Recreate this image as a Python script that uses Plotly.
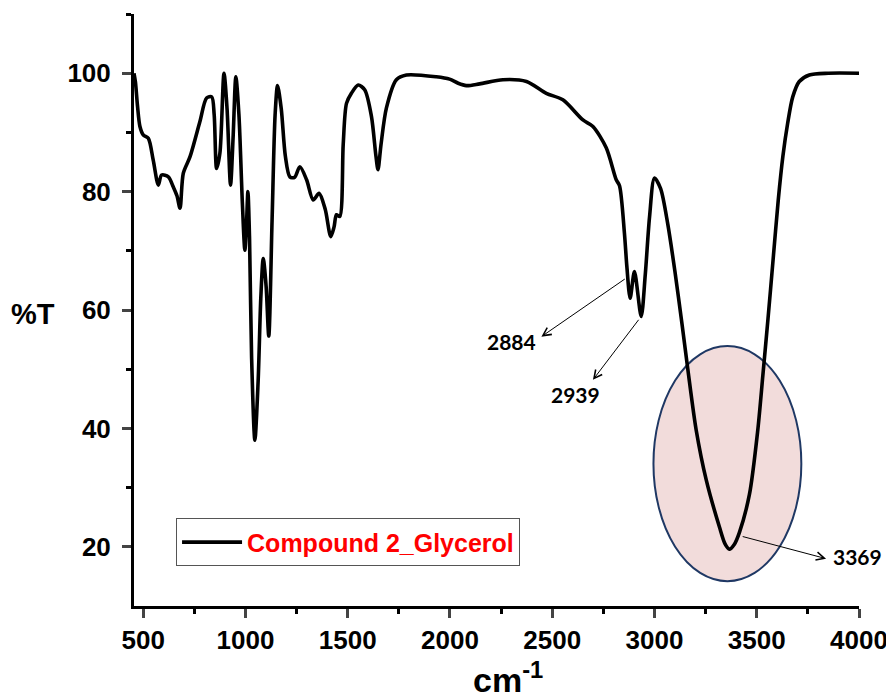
import plotly.graph_objects as go

wavenumber = [455, 462, 472, 484, 500, 525, 549, 574, 590, 623, 647, 665, 680, 696, 729, 777, 810, 835, 847, 859,
              875, 895, 910, 927, 940, 953, 968, 985, 997, 1005, 1012, 1020, 1030, 1046, 1062, 1075, 1087, 1101,
              1114, 1130, 1145, 1157, 1175, 1195, 1217, 1240, 1266, 1299, 1331, 1360, 1390, 1417, 1433, 1445,
              1461, 1478, 1494, 1518, 1551, 1583, 1616, 1638, 1648, 1663, 1689, 1738, 1787, 1933, 1998, 2040,
              2080, 2145, 2259, 2374, 2471, 2552, 2650, 2699, 2764, 2813, 2829, 2853, 2865, 2881, 2902, 2935,
              2955, 2976, 3000, 3030, 3065, 3100, 3135, 3163, 3204, 3253, 3318, 3345, 3366, 3390, 3415, 3464,
              3505, 3530, 3555, 3580, 3605, 3628, 3651, 3676, 3708, 3757, 3850, 4000]
transmittance = [100, 98.5, 94.5, 91.0, 89.6, 89.0, 85.3, 81.1, 82.8, 82.5, 80.8, 79.3, 77.2, 83.1, 85.9, 91.8, 95.8, 96.0, 93.0, 83.9,
                 86.5, 100, 94.0, 81.1, 89.5, 99.4, 93.0, 78.0, 70.1, 74.5, 80.0, 72.0, 52.0, 38.0, 48.0, 62.0, 68.7, 64.0,
                 55.6, 75.0, 93.0, 97.9, 94.0, 86.0, 82.5, 82.4, 84.2, 82.0, 78.6, 79.7, 77.0, 72.4, 74.0, 76.1,
                 75.8, 88.0, 94.9, 96.6, 98.0, 97.2, 92.7, 86.0, 83.7, 88.0, 94.1, 98.9, 99.7, 99.4, 99.0, 98.3,
                 97.9, 98.2, 98.9, 98.6, 96.6, 95.5, 92.1, 91.0, 87.4, 82.0, 81.0, 73.0, 67.3, 62.0, 66.5, 58.9,
                 66.0, 75.8, 82.3, 80.5, 74.5, 66.5, 57.5, 50.0, 39.7, 31.3, 23.3, 20.5, 19.6, 20.4, 22.4, 28.8,
                 39.7, 49.0, 58.5, 68.5, 78.5, 86.0, 91.5, 96.0, 98.6, 99.7, 100, 100]

series_name = "Compound 2_Glycerol"
x_ticks = [500, 1000, 1500, 2000, 2500, 3000, 3500, 4000]
x_minor_ticks = [750, 1250, 1750, 2250, 2750, 3250, 3750]
y_ticks = [20, 40, 60, 80, 100]
y_minor_ticks = [30, 50, 70, 90, 110]

# peak labels
peak_labels = ["2884", "2939", "3369"]
peak_tail_x = [2862, 2928, 3424]
peak_tail_y = [65.4, 58.6, 21.8]
peak_head_x = [2447, 2699, 3839]
peak_head_y = [55.5, 48.2, 18.0]
peak_text_x = [2302, 2614, 3992]
peak_text_y = [54.6, 45.8, 18.3]

fig = go.Figure()
fig.add_trace(go.Scatter(
    x=wavenumber, y=transmittance, mode="lines", name=series_name,
    line=dict(color="black", width=3.6, shape="spline", smoothing=0.8),
))

fig.add_shape(type="circle", xref="x", yref="y", x0=2995, x1=3718, y0=14.2, y1=53.9,
              fillcolor="#f2dcdb", line=dict(color="#1f3864", width=2), layer="below")

for lab, tx, ty, hx, hy, lx, ly in zip(peak_labels, peak_tail_x, peak_tail_y, peak_head_x, peak_head_y,
                                       peak_text_x, peak_text_y):
    fig.add_annotation(x=hx, y=hy, ax=tx, ay=ty, axref="x", ayref="y", xref="x", yref="y",
                       text="", showarrow=True, arrowhead=5, arrowsize=1.6, arrowwidth=1,
                       arrowcolor="black", standoff=0, startstandoff=0)
    fig.add_annotation(x=lx, y=ly, xref="x", yref="y", text=lab, showarrow=False,
                       font=dict(family="Lato, Open Sans, sans-serif", size=21, color="black", weight="bold"))

fig.add_annotation(xref="paper", yref="paper", x=-0.1388, y=0.493, xanchor="center", yanchor="middle",
                   text="%T", showarrow=False,
                   font=dict(family="Liberation Sans, Arial, sans-serif", size=29, color="black", weight="bold"))
fig.add_annotation(xref="paper", yref="paper", x=0.5156, y=-0.16, xanchor="center", yanchor="bottom",
                   showarrow=False, text="cm<sup>-1</sup>",
                   font=dict(family="Liberation Sans, Arial, sans-serif", size=34,
                             color="black", weight="bold"))

fig.update_layout(
    width=886, height=691,
    margin=dict(l=126, r=35, t=6, b=93),
    paper_bgcolor="white", plot_bgcolor="white",
    showlegend=True,
    legend=dict(x=0.058, y=0.148, xanchor="left", yanchor="top", bgcolor="white",
                bordercolor="#555555", borderwidth=1, itemwidth=60,
                font=dict(family="Liberation Sans, Arial, sans-serif", size=25, color="red", weight="bold")),
    xaxis=dict(range=[455, 4000], tickvals=x_ticks, ticks="outside", ticklen=9, tickwidth=2.5,
               showline=True, linecolor="black", linewidth=3, showgrid=False, zeroline=False,
               tickfont=dict(family="Liberation Sans, Arial, sans-serif", size=26,
                             color="black", weight="bold"),
               minor=dict(tickvals=x_minor_ticks, ticks="outside",
                          ticklen=5, tickwidth=2.5, tickcolor="black")),
    yaxis=dict(range=[10, 110], tickvals=y_ticks, ticks="outside", ticklen=9, tickwidth=2.5,
               showline=True, linecolor="black", linewidth=3, showgrid=False, zeroline=False,
               ticklabelstandoff=6,
               tickfont=dict(family="Liberation Sans, Arial, sans-serif", size=26, color="black", weight="bold"),
               minor=dict(tickvals=y_minor_ticks, ticks="outside",
                          ticklen=5, tickwidth=2.5, tickcolor="black")),
)

fig.write_html("out.html")
